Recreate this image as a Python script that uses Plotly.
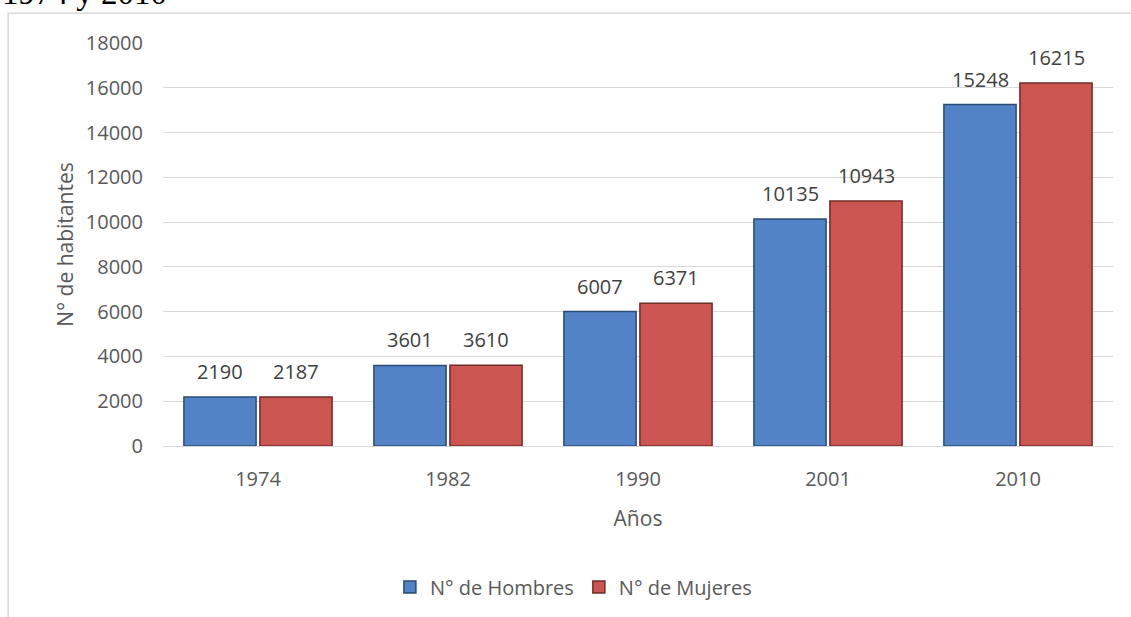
import plotly.graph_objects as go

years = ["1974", "1982", "1990", "2001", "2010"]
hombres = [2190, 3601, 6007, 10135, 15248]
mujeres = [2187, 3610, 6371, 10943, 16215]
y_ticks = [0, 2000, 4000, 6000, 8000, 10000, 12000, 14000, 16000, 18000]

FONT = "'Open Sans', Lato, sans-serif"
GREY = "#595959"
LABEL = "#404040"

fig = go.Figure()
fig.add_trace(go.Bar(
    x=years, y=hombres, name="N° de Hombres",
    marker=dict(color="#5283C6", line=dict(color="#2B4A74", width=1.5)),
))
fig.add_trace(go.Bar(
    x=years, y=mujeres, name="N° de Mujeres",
    marker=dict(color="#CB5551", line=dict(color="#732B29", width=1.5)),
))

# data labels above each bar (category index + value, through the axes)
annotations = []
for series, shift in ((hombres, -38), (mujeres, 38)):
    for i, v in enumerate(series):
        annotations.append(dict(x=i, y=v, xref="x", yref="y", text=str(v),
                                showarrow=False, xshift=shift, yshift=10, yanchor="bottom",
                                font=dict(size=20, color=LABEL, family=FONT)))

annotations.append(dict(text="1974 y 2010", xref="paper", yref="paper",
                        x=-0.1716, xanchor="left", y=1.075, yanchor="bottom",
                        showarrow=False,
                        font=dict(family="'Liberation Serif', serif", size=33, color="black")))

fig.update_layout(
    width=1131, height=617,
    margin=dict(l=163, r=18, t=43, b=171, autoexpand=False),
    paper_bgcolor="white", plot_bgcolor="white",
    barmode="group", bargap=0.2, bargroupgap=0.05,
    font=dict(family=FONT, color=GREY, size=20),
    showlegend=True,
    legend=dict(orientation="h", x=0.432, xanchor="center", y=-0.35, yanchor="middle",
                font=dict(size=20, color=GREY), traceorder="normal", itemwidth=30),
    xaxis=dict(type="category", categoryorder="array", categoryarray=years,
               range=[-0.5, len(years) - 0.5],
               title=dict(text="Años", font=dict(size=21, color=GREY), standoff=20),
               showgrid=False, ticks="", tickfont=dict(size=20, color=GREY),
               showline=False, ticklabelstandoff=19),
    yaxis=dict(title=dict(text="N° de habitantes", font=dict(size=21, color=GREY), standoff=6),
               range=[0, 18000], tickvals=y_ticks, ticktext=[str(v) for v in y_ticks],
               showgrid=True, gridcolor="#D9D9D9", gridwidth=1,
               zeroline=True, zerolinecolor="#D9D9D9", zerolinewidth=1,
               tickfont=dict(size=20, color=GREY), ticks="", ticklabelstandoff=19),
    shapes=[dict(type="rect", xref="paper", yref="paper",
                 x0=-0.163, y0=-0.45, x1=1.05, y1=1.074,
                 line=dict(color="#D9D9D9", width=1.5), fillcolor="rgba(0,0,0,0)", layer="below")],
    annotations=annotations,
)

fig.write_html("out.html", config={"displayModeBar": False},
               post_script="document.body.style.margin='0';document.body.style.overflow='hidden';")
